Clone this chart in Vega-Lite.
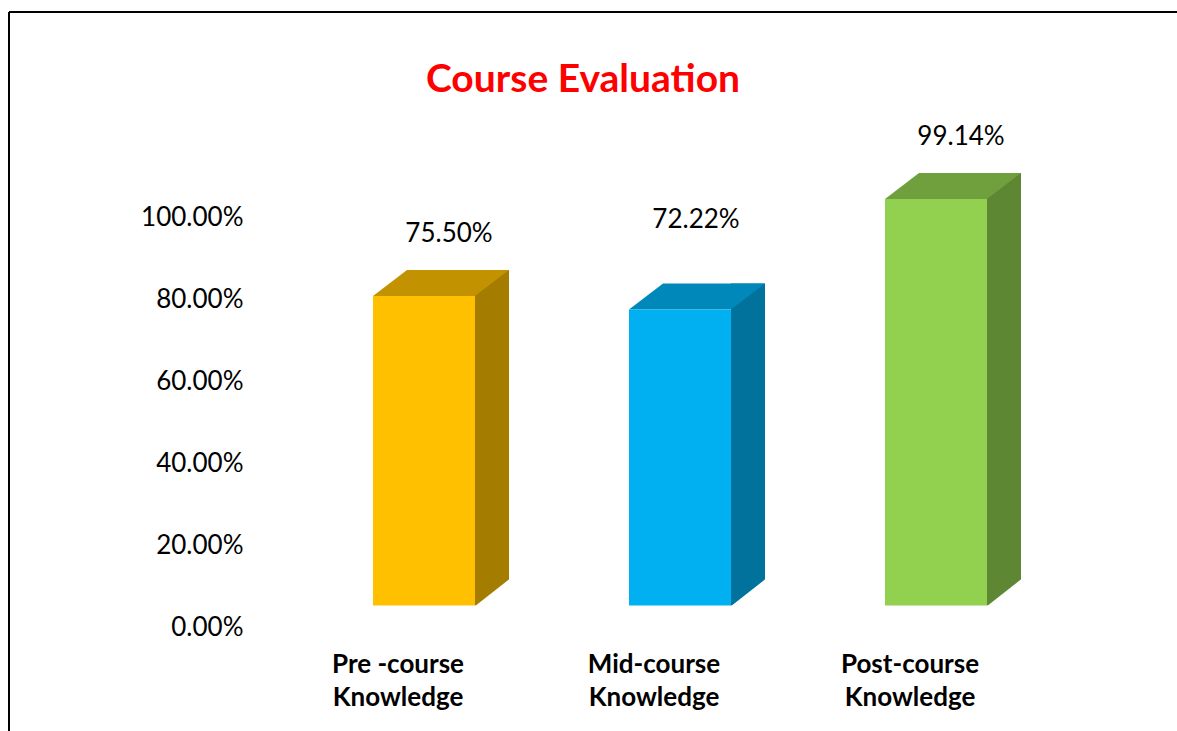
{
  "$schema": "https://vega.github.io/schema/vega-lite/v6.json",
  "autosize": {"type": "none"},
  "padding": {"left": 9, "top": 12, "right": 0, "bottom": 0},
  "width": 1168,
  "height": 719,
  "background": "white",
  "config": {
    "view": {"stroke": "#000000", "strokeWidth": 2, "strokeDash": [1168, 1887, 719, 0]},
    "font": "Lato"
  },
  "title": {
    "text": "Course Evaluation",
    "color": "#FF0000",
    "font": "Lato",
    "fontSize": 39,
    "fontWeight": "bold",
    "anchor": "middle",
    "frame": "group",
    "baseline": "alphabetic",
    "offset": 0,
    "dy": 119,
    "dx": -10
  },
  "data": {
    "values": [
      {"stage": "Pre -course Knowledge", "value": 0.755},
      {"stage": "Mid-course Knowledge", "value": 0.7222},
      {"stage": "Post-course Knowledge", "value": 0.9914}
    ]
  },
  "encoding": {
    "x": {
      "field": "stage",
      "type": "nominal",
      "sort": null,
      "scale": {"range": [287, 1055], "paddingInner": 0, "paddingOuter": 0},
      "axis": {
        "title": null,
        "orient": "bottom",
        "offset": -80,
        "domain": false,
        "ticks": false,
        "tickSize": 0,
        "labelPadding": 0,
        "labelAngle": 0,
        "labelOffset": -26,
        "labelBaseline": "top",
        "labelFont": "Lato",
        "labelFontSize": 26,
        "labelFontWeight": "bold",
        "labelColor": "#000000",
        "labelLineHeight": 33,
        "labelExpr": "[replace(datum.label, ' Knowledge', ''), 'Knowledge']"
      }
    },
    "y": {
      "field": "value",
      "type": "quantitative",
      "scale": {"domain": [-0.25244, 1.50122], "nice": false, "zero": false},
      "axis": {
        "title": null,
        "orient": "left",
        "offset": -234,
        "values": [0, 0.2, 0.4, 0.6, 0.8, 1],
        "format": ".2%",
        "domain": false,
        "ticks": false,
        "tickSize": 0,
        "grid": false,
        "labelPadding": 0,
        "labelFont": "Lato",
        "labelFontSize": 26,
        "labelColor": "#000000"
      }
    }
  },
  "layer": [
    {
      "mark": {"type": "bar", "width": 34, "xOffset": 68, "yOffset": -48, "y2Offset": -22},
      "encoding": {
        "y2": {"datum": 0},
        "color": {
          "field": "stage", "type": "nominal", "legend": null,
          "scale": {"domain": ["Pre -course Knowledge", "Mid-course Knowledge", "Post-course Knowledge"], "range": ["#A47C00", "#00729C", "#5E8733"]}
        }
      }
    },
    {
      "mark": {"type": "point", "shape": "M 0.505 0.01 L 0.855 -0.265 L 0.86 0.01 Z", "size": 40000, "filled": true, "opacity": 1, "strokeWidth": 0, "yOffset": -22, "color": "#FFFFFF"},
      "encoding": {
        "y": {
          "datum": 0,
          "type": "quantitative",
          "axis": {
            "title": null,
            "orient": "left",
            "offset": -234,
            "values": [0, 0.2, 0.4, 0.6, 0.8, 1],
            "format": ".2%",
            "domain": false,
            "ticks": false,
            "tickSize": 0,
            "grid": false,
            "labelPadding": 0,
            "labelFont": "Lato",
            "labelFontSize": 26,
            "labelColor": "#000000"
          }
        }
      }
    },
    {
      "mark": {"type": "point", "shape": "M -0.51 0 L 0.51 0 L 0.85 -0.26 L -0.17 -0.26 Z", "size": 40000, "filled": true, "opacity": 1, "strokeWidth": 0, "yOffset": -22},
      "encoding": {
        "color": {
          "field": "stage", "type": "nominal", "legend": null,
          "scale": {"domain": ["Pre -course Knowledge", "Mid-course Knowledge", "Post-course Knowledge"], "range": ["#C29200", "#0088BA", "#709F3D"]}
        }
      }
    },
    {
      "mark": {"type": "bar", "width": 102, "yOffset": -22, "y2Offset": -22},
      "encoding": {
        "y2": {"datum": 0},
        "color": {
          "field": "stage", "type": "nominal", "legend": null,
          "scale": {"domain": ["Pre -course Knowledge", "Mid-course Knowledge", "Post-course Knowledge"], "range": ["#FFC000", "#00B0F0", "#92D050"]}
        }
      }
    },
    {
      "transform": [{"filter": "datum.stage !== 'Mid-course Knowledge'"}],
      "mark": {"type": "text", "font": "Lato", "fontSize": 26, "color": "#000000", "baseline": "middle", "xOffset": 25, "yOffset": -84},
      "encoding": {"text": {"field": "value", "type": "quantitative", "format": ".2%"}}
    },
    {
      "transform": [{"filter": "datum.stage === 'Mid-course Knowledge'"}],
      "mark": {"type": "text", "font": "Lato", "fontSize": 26, "color": "#000000", "baseline": "middle", "xOffset": 16, "yOffset": -111},
      "encoding": {"text": {"field": "value", "type": "quantitative", "format": ".2%"}}
    }
  ],
  "resolve": {"scale": {"color": "independent"}}
}
